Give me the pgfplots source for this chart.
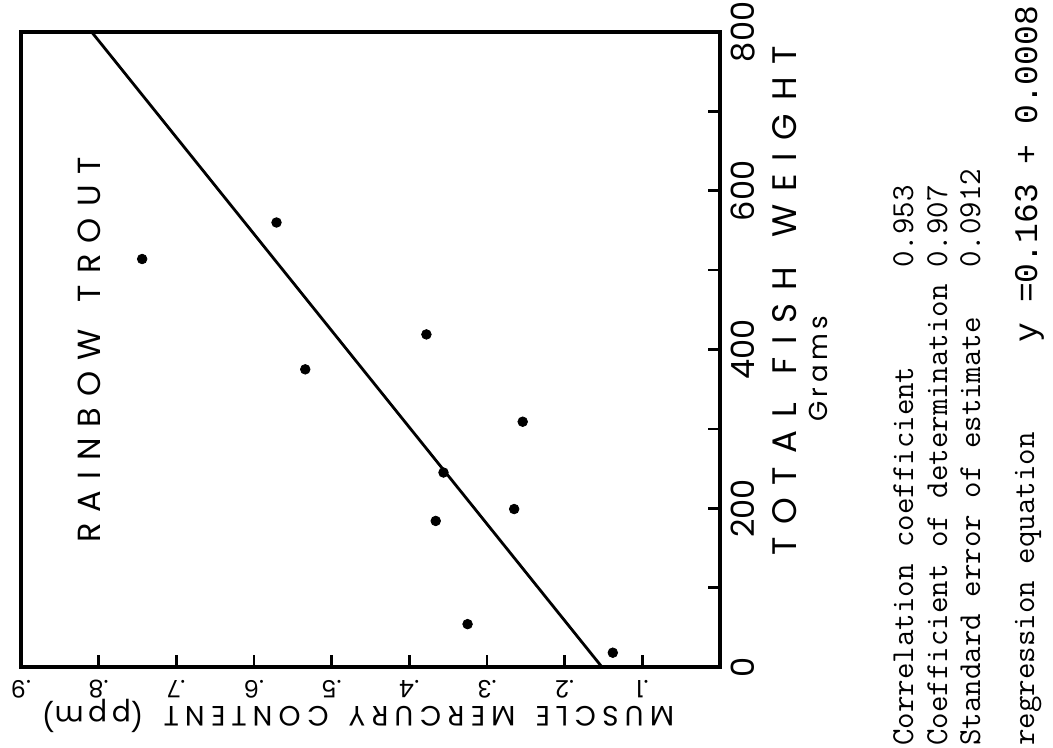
\documentclass[border=0pt]{standalone}
\usepackage{fontspec}
\setmainfont{Poppins}
\newfontfamily\mono{Liberation Mono}
\usepackage{pgfplots}
\pgfplotsset{compat=1.18}
\newcommand{\spread}[2]{\makebox[#1][s]{#2}}
\begin{document}
\begin{tikzpicture}
\useasboundingbox (0,0) rectangle (526.5pt,374pt);
\begin{axis}[
  at={(10.5pt,40.5pt)}, anchor=south west,
  scale only axis, width=349.5pt, height=317.5pt,
  xmin=0, xmax=0.9, x dir=reverse,
  ymin=0, ymax=800,
  axis line style={line width=1.8pt},
  tick align=inside,
  major tick length=6pt,
  tick style={black, line width=1.3pt},
  xtick={0.1,0.2,0.3,0.4,0.5,0.6,0.7,0.8,0.9},
  xticklabels={.1,.2,.3,.4,.5,.6,.7,.8,.9},
  xtick pos=left,
  xticklabel style={font=\fontsize{12}{12}\selectfont, yshift=-3pt, rotate=180, anchor=south},
  ytick={0,100,200,300,400,500,600,700,800},
  yticklabels={0,,200,,400,,600,,800},
  ytick pos=right, yticklabel pos=right,
  yticklabel style={font=\fontsize{16}{16}\selectfont, xshift=2pt, rotate=90, anchor=north},
  clip=false,
]
\addplot[only marks, mark=*, mark size=2.4pt, black] coordinates {
(0.138,18) (0.325,54) (0.366,184) (0.265,199) (0.356,245)
(0.254,309) (0.534,375) (0.378,419) (0.744,514) (0.571,560)
};
\addplot[black, line width=1.4pt] coordinates {(0.152,0) (0.809,800)};
\end{axis}
\begin{scope}[x=0.5pt,y=0.5pt]
\node[rotate=90, font=\fontsize{16}{16}\selectfont] at (89,398)
  {\spread{193pt}{R A I N B O W\hspace{8pt} T R O U T}};
\node[rotate=90, font=\fontsize{17}{17}\selectfont] at (785,447)
  {\spread{255pt}{T O T A L\hspace{8pt} F I S H\hspace{8pt} W E I G H T}};
\node[rotate=90, font=\fontsize{13}{13}\selectfont] at (818,371)
  {\spread{45pt}{G r a m s}};
\node[rotate=180, font=\fontsize{14}{14}\selectfont] at (358,32)
  {\spread{316pt}{M U S C L E\hspace{7pt} M E R C U R Y\hspace{7pt} C O N T E N T\hspace{7pt} (p\,p\,m)}};
\node[rotate=90, anchor=base west, inner sep=0pt, font=\ttfamily\fontsize{16}{16}\selectfont] at (913,2)
  {Correlation~coefficient~~~~~~0.953};
\node[rotate=90, anchor=base west, inner sep=0pt, font=\ttfamily\fontsize{16}{16}\selectfont] at (947,2)
  {Coefficient~of~determination~0.907};
\node[rotate=90, anchor=base west, inner sep=0pt, font=\ttfamily\fontsize{16}{16}\selectfont] at (980,2)
  {Standard~error~of~estimate~~~0.0912};
\node[rotate=90, anchor=base west, inner sep=0pt, font=\ttfamily\fontsize{16}{16}\selectfont] at (1034,2)
  {regression~equation};
\node[rotate=90, anchor=base west, inner sep=0pt, font=\mono\fontsize{16.5}{16.5}\selectfont] at (1037,405)
  {y~=0.163~+~0.0008};
\end{scope}
\end{tikzpicture}
\end{document}
